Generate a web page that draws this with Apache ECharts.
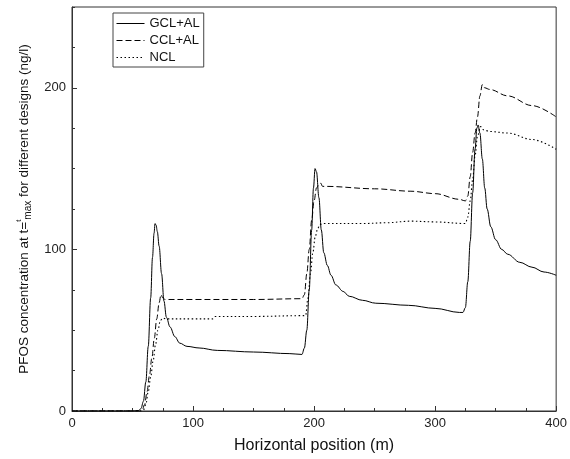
<!DOCTYPE html>
<html>
<head>
<meta charset="utf-8">
<script src="https://cdn.jsdelivr.net/npm/echarts@6/dist/echarts.min.js"></script>
<style>
  html, body { margin: 0; padding: 0; background: #fff; }
  #chart { width: 570px; height: 459px; }
</style>
</head>
<body>
<div id="chart"></div>
<script>
// PFOS concentration profiles along the horizontal position for three liner designs

var seriesNames = ['GCL+AL', 'CCL+AL', 'NCL'];

// GCL+AL (solid)
var gclX = [0, 50, 55, 57, 59, 61, 63, 65, 66.5, 67.8, 68.6, 69.5, 70.5, 72, 74, 76, 78, 81, 85, 89, 95, 105, 120, 150, 180, 190,
            192, 194, 196, 198, 199.5, 200.8, 202, 204, 206, 208, 211, 214, 218, 224, 229, 240, 251, 278, 300, 320, 323,
            325, 327, 329, 331, 333, 334.5, 335.5, 337, 339, 341, 343, 346, 350, 355, 360, 370, 380, 390, 400];
var gclY = [0, 0, 0.3, 1.5, 6, 18, 40, 70, 95, 110, 116, 115, 111, 102, 85, 68, 58, 52, 46, 42, 40, 39, 37.5, 36.5, 35.5, 35,
            39, 50, 75, 112, 138, 150, 148, 132, 112, 98, 90, 84, 78, 74, 71, 68.5, 66.7, 65.4, 63.5, 61, 61,
            64, 80, 105, 135, 162, 175, 177, 172, 156, 138, 125, 114, 106, 100, 97, 92, 89, 86, 84];

// CCL+AL (dashed)
var cclX = [0, 56, 58, 60, 62, 64, 66, 68, 70, 72, 73.5, 75, 77, 100, 150, 190,
            192, 194, 196, 198, 200, 202, 204, 205.5, 207, 210, 250, 280, 300, 320, 325,
            327, 329, 331, 333, 335, 337, 339, 341, 345, 360, 380, 400];
var cclY = [0, 0, 0.5, 4, 12, 22, 33, 45, 57, 67, 72, 70, 69, 69, 69, 69.5,
            72, 85, 100, 118, 130, 138, 140, 141, 139, 139, 137.5, 136, 134.5, 131, 130,
            133, 145, 160, 172, 182, 195, 202, 200, 199, 195, 189, 182];

// NCL (dotted)
var nclX = [0, 57, 59, 61, 63, 65, 67, 69, 71, 73, 75, 78, 100, 116, 118, 150, 190, 193,
            195, 197, 199, 201, 203, 205, 208, 240, 260, 280, 300, 325,
            327, 329, 331, 333, 335, 337.5, 340, 345, 360, 380, 400];
var nclY = [0, 0, 0.5, 4, 12, 21, 31, 41, 50, 56, 57.5, 57, 57, 57, 58.5, 58.5, 59, 59,
            70, 85, 98, 108, 113, 115.5, 116, 116, 116.5, 117.5, 117, 116,
            120, 130, 143, 158, 170, 176, 174, 173, 172, 168, 162];

// Axis ranges and tick steps
var xRange = [0, 400];
var yRange = [0, 250];
var xMajor = 100;
var yMajor = 100;
var yMinor = 25;

function pairs(xs, ys) {
  return xs.map(function (x, i) { return [x, ys[i]]; });
}

var FONT = '"Liberation Sans", Arial, sans-serif';
var AXIS_COLOR = '#333';

var chart = echarts.init(document.getElementById('chart'), null, { renderer: 'canvas' });

var lineStyles = [
  { color: '#000', width: 1, type: 'solid' },
  { color: '#000', width: 1, type: [6, 3] },
  { color: '#000', width: 1.1, type: [1.5, 2.5] }
];
var seriesData = [pairs(gclX, gclY), pairs(cclX, cclY), pairs(nclX, nclY)];

chart.setOption({
  animation: false,
  backgroundColor: '#fff',
  textStyle: { fontFamily: FONT },
  grid: {
    left: 72, right: 13, top: 7, bottom: 46,
    show: true, borderColor: AXIS_COLOR, borderWidth: 1, backgroundColor: 'transparent'
  },
  legend: {
    orient: 'vertical',
    left: 113, top: 13,
    padding: [4, 4, 3, 3],
    itemGap: 4,
    itemWidth: 28, itemHeight: 14,
    borderColor: '#444', borderWidth: 1, borderRadius: 0,
    itemStyle: { opacity: 0 },
    lineStyle: { width: 1 },
    textStyle: { fontFamily: FONT, fontSize: 13, color: '#111' },
    data: seriesNames
  },
  xAxis: {
    type: 'value',
    min: xRange[0], max: xRange[1], interval: xMajor,
    name: 'Horizontal position (m)',
    nameLocation: 'middle', nameGap: 27,
    nameTextStyle: { fontFamily: FONT, fontSize: 16, color: '#111' },
    axisLine: { lineStyle: { color: AXIS_COLOR, width: 1 } },
    axisTick: { inside: true, length: 5, lineStyle: { color: AXIS_COLOR } },
    minorTick: { show: true, splitNumber: 4, length: 3, lineStyle: { color: AXIS_COLOR } },
    splitLine: { show: false },
    axisLabel: { fontFamily: FONT, fontSize: 13, color: '#222', margin: 6 }
  },
  yAxis: [
    {
      type: 'value',
      min: yRange[0], max: yRange[1], interval: yMajor,
      name: '{n|PFOS concentration at t=}{sup|t}{sub|max}{n| for different designs (ng/l)}',
      nameLocation: 'middle', nameGap: 38,
      nameTextStyle: {
        fontFamily: FONT, color: '#111',
        rich: {
          n: { fontFamily: FONT, fontSize: 13.5, color: '#111', lineHeight: 19, verticalAlign: 'middle' },
          sup: { fontFamily: FONT, fontSize: 8, color: '#111', lineHeight: 19, verticalAlign: 'top' },
          sub: { fontFamily: FONT, fontSize: 10, color: '#111', lineHeight: 19, verticalAlign: 'bottom' }
        }
      },
      axisLine: { lineStyle: { color: AXIS_COLOR, width: 1 } },
      axisTick: { inside: true, length: 5, lineStyle: { color: AXIS_COLOR } },
      splitLine: { show: false },
      axisLabel: { fontFamily: FONT, fontSize: 13, color: '#222', margin: 6, showMaxLabel: false }
    },
    {
      type: 'value',
      position: 'left',
      min: yRange[0], max: yRange[1], interval: yMinor,
      axisLine: { show: false },
      axisTick: { inside: true, length: 3, lineStyle: { color: AXIS_COLOR } },
      axisLabel: { show: false },
      splitLine: { show: false }
    }
  ],
  series: seriesNames.map(function (name, i) {
    return {
      name: name,
      type: 'line',
      yAxisIndex: 0,
      data: seriesData[i],
      symbol: 'none',
      smooth: 0.35,
      smoothMonotone: 'x',
      clip: true,
      lineStyle: lineStyles[i],
      itemStyle: { color: '#000' },
      emphasis: { disabled: true }
    };
  })
});
</script>
</body>
</html>
